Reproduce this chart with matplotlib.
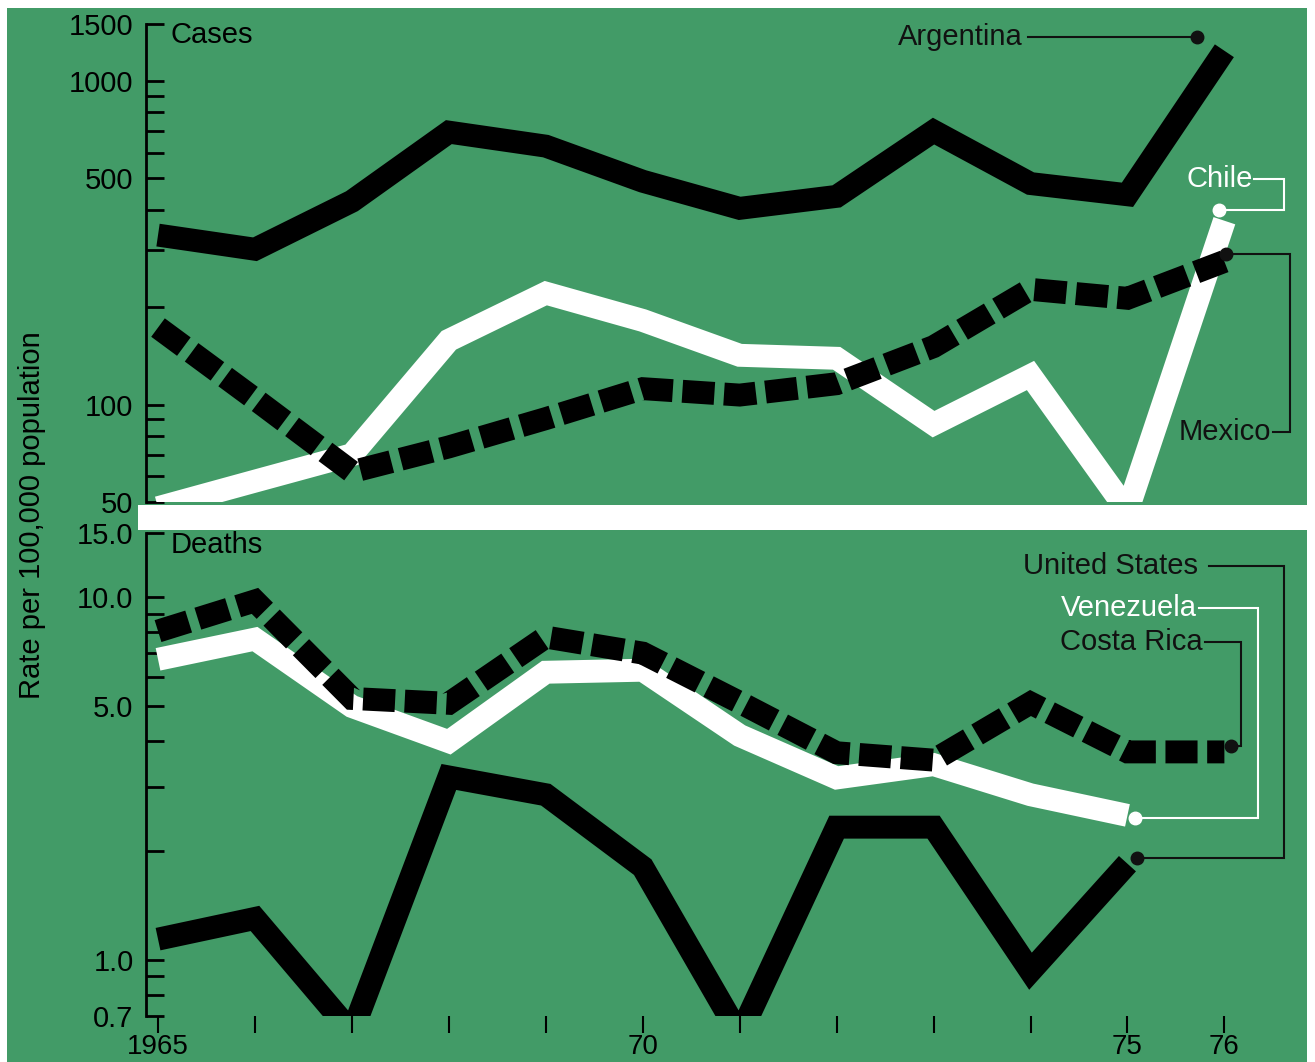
import matplotlib
matplotlib.use("Agg")
import matplotlib.pyplot as plt
from matplotlib.patches import Rectangle
from matplotlib.ticker import FixedLocator, FixedFormatter, NullFormatter

plt.rcParams['font.family'] = ['Liberation Sans', 'DejaVu Sans']

years = list(range(1965, 1977))

# Cases per 100,000 population
argentina = [334, 302, 425, 695, 629, 490, 404, 440, 700, 482, 445, 1240]
chile = [48, 58, 70, 158, 221, 182, 142, 139, 87, 123, 47, 370]
mexico = [173, 104, 62, 74, 90.5, 112, 107, 116, 151, 227, 213, 277]

# Deaths per 100,000 population (US and Venezuela stop at 1975)
costa_rica = [8.05, 9.75, 5.25, 5.09, 7.75, 7.0, 5.12, 3.72, 3.55, 5.1, 3.74, 3.74]
venezuela = [6.73, 7.65, 4.99, 3.99, 6.2, 6.28, 4.15, 3.17, 3.45, 2.85, 2.5]
united_states = [1.14, 1.30, 0.63, 3.19, 2.85, 1.80, 0.62, 2.32, 2.32, 0.93, 1.84]

cases_ticks = [50, 100, 500, 1000, 1500]
cases_labels = ["50", "100", "500", "1000", "1500"]
cases_minor = [60, 70, 80, 90, 200, 300, 400, 600, 700, 800, 900]
deaths_ticks = [0.7, 1.0, 5.0, 10.0, 15.0]
deaths_labels = ["0.7", "1.0", "5.0", "10.0", "15.0"]
deaths_minor = [0.8, 0.9, 2, 3, 4, 6, 7, 8, 9]
year_labels = ["1965", "", "", "", "", "70", "", "", "", "", "75", "76"]

GREEN = '#429b67'
W, H = 1315, 1062
LW = 16.5
DASH = (0, (1.4, 0.42))


def fx(px):
    return px / W


def fy(py):
    return 1 - py / H


fig = plt.figure(figsize=(W / 100, H / 100), dpi=100)
fig.patch.set_facecolor('white')
fig.add_artist(Rectangle((fx(7), 0), fx(1307) - fx(7), fy(8), transform=fig.transFigure,
                         facecolor=GREEN, edgecolor='none', zorder=-2))
fig.add_artist(Rectangle((fx(138), fy(530)), 1 - fx(138), 25 / H, transform=fig.transFigure,
                         facecolor='white', edgecolor='none', zorder=-1))

ax1 = fig.add_axes([fx(146), fy(502), fx(1300) - fx(146), (502 - 24) / H])
ax2 = fig.add_axes([fx(146), fy(1016), fx(1300) - fx(146), (1016 - 533) / H])

for ax in (ax1, ax2):
    ax.set_facecolor('none')
    ax.set_yscale('log')
    ax.set_xlim(1964.876, 1976.78)
    for s in ('top', 'right', 'bottom'):
        ax.spines[s].set_visible(False)
    ax.spines['left'].set_linewidth(2)
    ax.tick_params(axis='y', which='both', direction='in', length=13, width=2,
                   labelsize=21, pad=9)

solid = dict(lw=LW, solid_joinstyle='miter', solid_capstyle='butt')
dashed = dict(lw=LW, linestyle=DASH, dash_joinstyle='miter', dash_capstyle='butt')

# Cases
ax1.plot(years, argentina, color='black', zorder=3, **solid)
ax1.plot(years, chile, color='white', zorder=4, **solid)
ax1.plot(years, mexico, color='black', zorder=5, **dashed)
ax1.set_ylim(50, 1500)
ax1.yaxis.set_major_locator(FixedLocator(cases_ticks))
ax1.yaxis.set_major_formatter(FixedFormatter(cases_labels))
ax1.yaxis.set_minor_locator(FixedLocator(cases_minor))
ax1.yaxis.set_minor_formatter(NullFormatter())
ax1.tick_params(axis='x', which='both', bottom=False, labelbottom=False)
ax1.text(0.021, 0.977, "Cases", transform=ax1.transAxes, fontsize=21, va='center')

# Deaths
ax2.plot(years[:11], venezuela, color='white', zorder=4, **solid)
ax2.plot(years[:11], united_states, color='black', zorder=3, **solid)
ax2.plot(years, costa_rica, color='black', zorder=5, **dashed)
ax2.set_ylim(0.7, 15)
ax2.yaxis.set_major_locator(FixedLocator(deaths_ticks))
ax2.yaxis.set_major_formatter(FixedFormatter(deaths_labels))
ax2.yaxis.set_minor_locator(FixedLocator(deaths_minor))
ax2.yaxis.set_minor_formatter(NullFormatter())
ax2.set_xticks(years)
ax2.set_xticklabels(year_labels)
ax2.tick_params(axis='x', which='both', direction='out', length=12, width=1.5,
                labelsize=20, pad=1)
ax2.text(0.021, 0.975, "Deaths", transform=ax2.transAxes, fontsize=21, va='center')

fig.text(fx(32), fy(515), "Rate per 100,000 population", rotation=90,
         fontsize=21, ha='center', va='center')


# leader lines for the country labels
def label(ax, name, color, text_xy, path, dot):
    xs, ys = zip(*path)
    ax.plot(xs, ys, color=color, lw=1.5, clip_on=False, zorder=6,
            solid_joinstyle='miter')
    ax.plot([dot[0]], [dot[1]], 'o', color=color, ms=9, clip_on=False, zorder=6)
    ax.text(text_xy[0], text_xy[1], name, color=color, fontsize=21,
            ha='right', va='center', zorder=6)


label(ax1, "Argentina", '#111111', (1973.92, 1368),
      [(1973.97, 1368), (1975.72, 1368)], (1975.72, 1368))
label(ax1, "Chile", 'white', (1976.29, 498),
      [(1976.31, 498), (1976.61, 498), (1976.61, 399), (1975.94, 399)], (1975.94, 399))
label(ax1, "Mexico", '#111111', (1976.48, 82.5),
      [(1976.02, 293), (1976.68, 293), (1976.68, 82.5), (1976.5, 82.5)], (1976.02, 293))

label(ax2, "United States", '#111111', (1975.73, 12.2),
      [(1975.84, 12.2), (1976.61, 12.2), (1976.61, 1.905), (1975.1, 1.905)], (1975.1, 1.905))
label(ax2, "Venezuela", 'white', (1975.72, 9.32),
      [(1975.74, 9.32), (1976.35, 9.32), (1976.35, 2.46), (1975.08, 2.46)], (1975.08, 2.46))
label(ax2, "Costa Rica", '#111111', (1975.78, 7.5),
      [(1975.8, 7.5), (1976.17, 7.5), (1976.17, 3.89), (1976.07, 3.89)], (1976.07, 3.89))

fig.savefig("out.png", dpi=100, facecolor=fig.get_facecolor())
